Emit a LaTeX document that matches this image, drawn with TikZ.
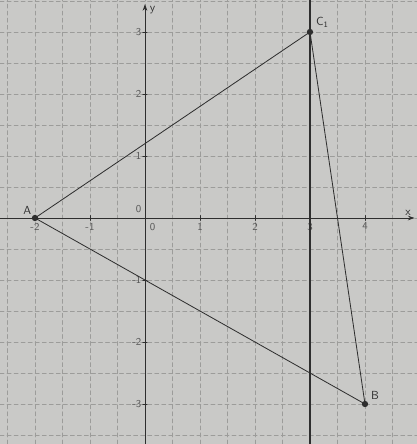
\documentclass[tikz,border=0pt]{standalone}
\usepackage{xcolor}
\usepackage{tikz}
\usetikzlibrary{arrows.meta,positioning}
\definecolor{paper}{HTML}{C9C9C7}
\definecolor{ink}{HTML}{2E2E2E}
\definecolor{gridgray}{HTML}{9C9C9A}
\tikzset{
    every picture/.style={line cap=round,line join=round},
    gridline/.style={draw=gridgray,line width=0.5pt,dash pattern=on 3.5pt off 2.5pt},
    axisline/.style={draw=ink,line width=0.8pt,-{Stealth[length=2mm,width=1.4mm]}},
    sideline/.style={draw=ink,line width=0.7pt},
    vertline/.style={draw=ink,line width=0.9pt},
    ptdot/.style={circle,fill=ink,minimum size=1.9mm,inner sep=0pt},
    ticklabel/.style={text=ink!80,font=\sffamily\small,inner sep=1pt},
    ptlabel/.style={text=ink,font=\sffamily,inner sep=1pt}
}
\begin{document}
\begin{tikzpicture}[x=1.65cm,y=1.86cm]
    \fill[paper] (-2.636,-3.645) rectangle (4.945,3.516);
    \useasboundingbox (-2.636,-3.645) rectangle (4.945,3.516);
    % grid
    \foreach \gx in {-2.5,-2,...,4.5}
        \draw[gridline] (\gx,-3.645) -- (\gx,3.516);
    \foreach \gy in {-3.5,-3,...,3.5}
        \draw[gridline] (-2.636,\gy) -- (4.945,\gy);

    % axes
    \coordinate (xstart) at (-2.636,0);
    \coordinate (xend) at (4.9,0);
    \coordinate (ystart) at (0,-3.645);
    \coordinate (yend) at (0,3.45);
    \draw[axisline] (xstart)--(xend);
    \draw[axisline] (ystart)--(yend);
    \node[ptlabel,above left=1pt and 2pt of xend] {x};
    \node[ptlabel,below right=1pt and 3pt of yend] {y};
    \foreach \tx in {-2,-1,1,2,3,4} {
        \draw[ink,line width=0.5pt] (\tx,-0.04)--(\tx,0.04);
        \node[ticklabel,below=3pt] at (\tx,0) {\tx};
    }
    \foreach \ty in {-3,-2,-1,1,2,3} {
        \draw[ink,line width=0.5pt] (-0.04,\ty)--(0.04,\ty);
        \node[ticklabel,left=2pt] at (0,\ty) {\ty};
    }
    \node[ticklabel,below right=3pt and 3pt] at (0,0) {0};
    \node[ticklabel,above left=3pt and 2pt] at (0,0) {0};

    % vertical line through C1
    \coordinate (vtop) at (3,3.516);
    \coordinate (vbot) at (3,-3.645);
    \draw[vertline] (vtop)--(vbot);

    % triangle
    \node[ptdot] (A) at (-2,0) {};
    \node[ptdot] (C1) at (3,3) {};
    \node[ptdot] (B) at (4,-3) {};
    \draw[sideline] (A.center)--(C1.center)--(B.center)--(A.center);
    \node[ptlabel,above left=0pt of A] {A};
    \node[ptlabel,above right=1pt and 2pt of C1] {C\textsubscript{1}};
    \node[ptlabel,above right=1pt and 2pt of B] {B};
\end{tikzpicture}
\end{document}
